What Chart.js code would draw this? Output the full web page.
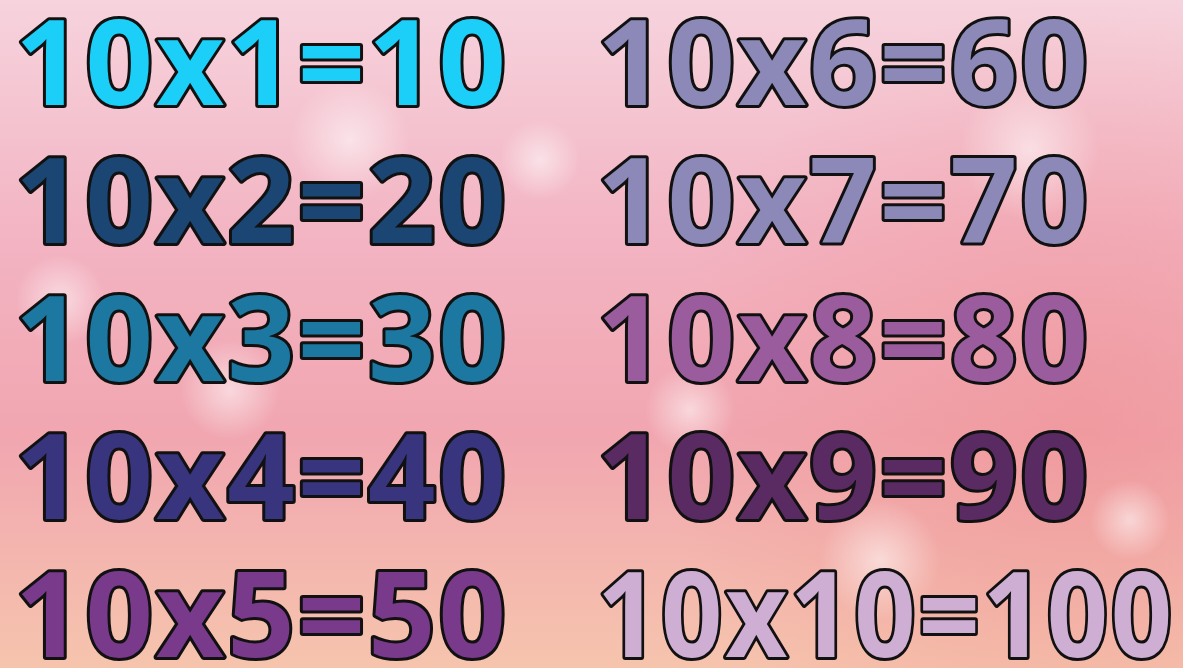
<!DOCTYPE html>
<html>
<head>
<meta charset="utf-8">
<script src="https://cdn.jsdelivr.net/npm/chart.js@4/dist/chart.umd.min.js"></script>
<style>
  html, body { margin: 0; padding: 0; overflow: hidden; }
  #wrap { width: 1183px; height: 668px; position: relative; }
</style>
</head>
<body>
<div id="wrap"><canvas id="tbl"></canvas></div>
<script>
// 10 的乘法表
var multiplicand = 10;
var multipliers = [1, 2, 3, 4, 5, 6, 7, 8, 9, 10];
var products = [10, 20, 30, 40, 50, 60, 70, 80, 90, 100];
var rowColors = ['#1ccff8', '#1b4572', '#1c78a0', '#38347e', '#7a3a8c',
                 '#8c88b8', '#8c88b8', '#9a5c9c', '#5a2a62', '#cfaed4'];

var points = multipliers.map(function(m, i) {
  return { x: Math.floor(i / 5), y: i % 5 };
});
var labels = multipliers.map(function(m, i) {
  return multiplicand + 'x' + m + '=' + products[i];
});

// 背景：粉紅漸層 + 光斑
var bgPlugin = {
  id: 'bokehBg',
  beforeDraw: function(chart) {
    var ctx = chart.ctx, w = chart.width, h = chart.height;
    ctx.save();
    var g = ctx.createLinearGradient(0, 0, 0, h);
    g.addColorStop(0, '#f6d3dd');
    g.addColorStop(0.35, '#f3b4c3');
    g.addColorStop(0.65, '#f1a6b0');
    g.addColorStop(1, '#f6c4ad');
    ctx.fillStyle = g;
    ctx.fillRect(0, 0, w, h);
    var g2 = ctx.createRadialGradient(1080, 420, 20, 1080, 420, 420);
    g2.addColorStop(0, 'rgba(238,140,140,0.45)');
    g2.addColorStop(1, 'rgba(238,140,140,0)');
    ctx.fillStyle = g2;
    ctx.fillRect(0, 0, w, h);
    var spots = [[350, 140, 60], [540, 160, 40], [1030, 150, 70], [230, 390, 50],
                 [690, 410, 45], [880, 560, 60], [1130, 520, 40], [60, 300, 45]];
    spots.forEach(function(s) {
      var r = ctx.createRadialGradient(s[0], s[1], 0, s[0], s[1], s[2]);
      r.addColorStop(0, 'rgba(255,255,255,0.55)');
      r.addColorStop(1, 'rgba(255,255,255,0)');
      ctx.fillStyle = r;
      ctx.beginPath(); ctx.arc(s[0], s[1], s[2], 0, Math.PI * 2); ctx.fill();
    });
    ctx.restore();
  }
};

// 文字：黑色描邊 + 彩色填滿
var textPlugin = {
  id: 'eqText',
  afterDatasetsDraw: function(chart) {
    var ctx = chart.ctx;
    var meta = chart.getDatasetMeta(0);
    ctx.save();
    ctx.font = 'normal normal 700 118px "Open Sans", Lato, sans-serif';
    ctx.letterSpacing = '3px';
    ctx.textAlign = 'left';
    ctx.textBaseline = 'alphabetic';
    var capH = ctx.measureText('0').actualBoundingBoxAscent;
    ctx.lineJoin = 'round';
    ctx.lineWidth = 6;
    ctx.strokeStyle = '#111';
    meta.data.forEach(function(pt, i) {
      var y = pt.y + capH / 2;
      ctx.strokeText(labels[i], pt.x, y, 578);
      ctx.fillStyle = rowColors[i];
      ctx.fillText(labels[i], pt.x, y, 578);
    });
    ctx.restore();
  }
};

new Chart(document.getElementById('tbl'), {
  type: 'scatter',
  data: {
    datasets: [{
      data: points,
      pointRadius: 0,
      pointHoverRadius: 0,
      backgroundColor: rowColors
    }]
  },
  options: {
    responsive: true,
    maintainAspectRatio: false,
    animation: false,
    events: [],
    layout: { padding: 0 },
    plugins: { legend: { display: false }, tooltip: { enabled: false } },
    scales: {
      x: { type: 'linear', display: false, min: -0.0258, max: 2.007 },
      y: { type: 'linear', display: false, reverse: true, min: -0.449, max: 4.39 }
    }
  },
  plugins: [bgPlugin, textPlugin]
});
</script>
</body>
</html>
